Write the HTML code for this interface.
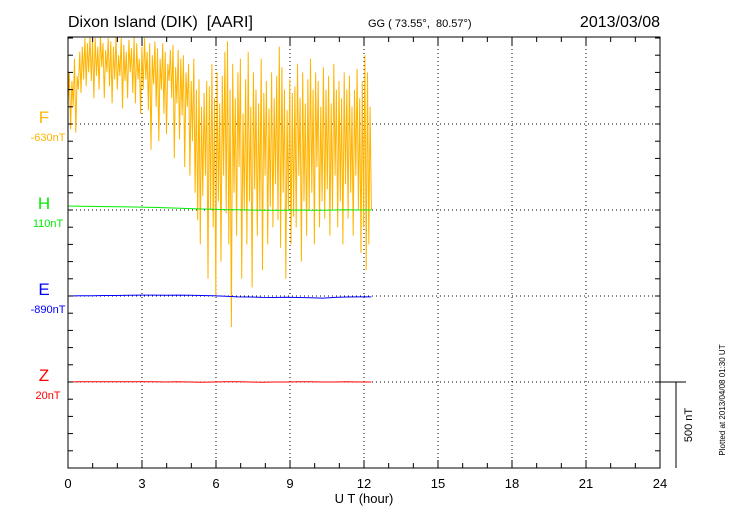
<!DOCTYPE html>
<html><head><meta charset="utf-8"><style>
body{margin:0;background:#fff;width:730px;height:520px;overflow:hidden}
svg text{font-family:"Liberation Sans",sans-serif}
</style></head><body>
<svg id="c" width="730" height="520">
<text x="68" y="27" font-size="16" xml:space="preserve" style="white-space:pre">Dixon Island (DIK)  [AARI]</text>
<text x="368" y="27" font-size="11" xml:space="preserve" style="white-space:pre">GG ( 73.55°,  80.57°)</text>
<text x="660" y="27" font-size="16" text-anchor="end">2013/03/08</text>
<text x="364" y="503" font-size="13" text-anchor="middle">U T (hour)</text>
<text transform="translate(725,400) rotate(-90)" font-size="8" text-anchor="middle">Plotted at 2013/04/08 01:30 UT</text>
<text transform="translate(692,425) rotate(-90)" font-size="11" text-anchor="middle">500 nT</text>
<g id="grid"></g><g id="series"></g><g id="axes"></g>
</svg>
<script>
const hours=[0,3,6,9,12,15,18,21,24];
const comps=["F","H","E","Z"];
const compColors=["#ffb400","#00ee00","#0000ff","#ff0000"];
const baselines=["-630nT","110nT","-890nT","20nT"];
const F=[
120,300,-30,250,100,380,-50,280,200,420,
180,450,260,500,220,470,300,520,250,480,
150,500,280,450,200,520,330,470,150,430,
300,500,220,480,120,450,260,510,200,400,
280,500,90,460,250,420,150,490,300,440,
180,510,120,470,260,380,60,450,200,500,
260,420,80,470,-150,400,230,480,100,440,
-100,380,200,470,60,420,-60,350,250,430,
150,460,-200,330,120,430,-90,380,50,400,
-250,300,100,350,-300,250,-100,380,-400,200,
-560,260,-700,100,-420,180,-300,250,-900,220,
-500,350,-600,150,-1000,300,-450,120,-800,280,
-300,420,-520,480,-700,200,-1180,350,-400,150,
-650,300,-250,380,-900,60,-500,260,-700,420,
-450,100,-950,300,-380,200,-650,120,-500,380,
-850,180,-300,250,-700,90,-480,300,-600,150,
-350,280,-560,450,-720,330,-400,200,-900,80,
-500,260,-700,180,-540,220,-600,350,-300,150,
-800,300,-450,120,-650,260,-500,380,-400,200,
-700,300,-250,250,-600,100,-450,330,-550,200,
-380,280,-650,120,-500,350,-300,200,-600,250,
-450,150,-700,300,-350,200,-550,280,-400,100,
-650,200,-300,320,-500,150,-750,250,-600,400,
-850,300,-700,100,-500
];
const H=[23,22,21,20,19,18,17,15,13,11,8,6,4,2,1,0,-1,-2,-1,0,-2,-1,0,1,0,0];
const E=[0,1,2,3,3,4,5,5,4,5,4,3,1,-2,-5,-6,-8,-9,-7,-9,-10,-12,-8,-6,-5,-5];
const Z=[0,1,1,1,2,1,1,1,0,1,0,-1,0,1,1,0,-1,0,0,1,1,0,0,1,0,0];
const tEnd=12.3;
const x0=68,x1=660,yTop=37,yBot=468;
const baseY=[124,210,296,382];
const pxPerNT=86/500;
const xs=h=>x0+(h/24)*(x1-x0);
const ys=(i,v)=>baseY[i]-v*pxPerNT;
const NS="http://www.w3.org/2000/svg";
function mk(t,a,p){const e=document.createElementNS(NS,t);for(const k in a)e.setAttribute(k,a[k]);p.appendChild(e);return e;}
const svg=document.getElementById('c'),grid=document.getElementById('grid'),ser=document.getElementById('series'),ax=document.getElementById('axes');
const defs=mk('defs',{},svg);const cp=mk('clipPath',{id:'pc'},defs);mk('rect',{x:x0,y:yTop,width:x1-x0,height:yBot-yTop},cp);
hours.forEach((h,i)=>{if(i>0&&i<hours.length-1){const l=mk('line',{x1:xs(h),x2:xs(h),y1:yTop,y2:yBot,stroke:'#000','stroke-width':1,'stroke-dasharray':'1,3'},grid);

}
const t=mk('text',{x:xs(h),y:488,'font-size':13,'text-anchor':'middle'},ax);t.textContent=h;

});
baseY.forEach((y,i)=>{const l=mk('line',{x1:x0,x2:x1,y1:y,y2:y,stroke:'#000','stroke-width':1,'stroke-dasharray':'1,3'},grid);


const a=mk('text',{x:44,y:y-1,'font-size':17,'text-anchor':'middle',fill:compColors[i]},ax);a.textContent=comps[i];


const b=mk('text',{x:48,y:y+17,'font-size':11,'text-anchor':'middle',fill:compColors[i]},ax);b.textContent=baselines[i];

});
mk('rect',{x:x0,y:yTop,width:x1-x0,height:yBot-yTop,fill:'none',stroke:'#000','stroke-width':1},ax);
for(let h=0;h<=24;h++){const x=xs(h);const L=h%3==0?8:5;
mk('line',{x1:x,x2:x,y1:yTop,y2:yTop+L,stroke:'#000'},ax);mk('line',{x1:x,x2:x,y1:yBot,y2:yBot-L,stroke:'#000'},ax);}
for(let k=-5;k<=20;k++){const y=baseY[0]+k*17.2;if(y<yTop||y>yBot)continue;
mk('line',{x1:x0,x2:x0+5,y1:y,y2:y,stroke:'#000'},ax);mk('line',{x1:x1,x2:x1-5,y1:y,y2:y,stroke:'#000'},ax);}
mk('line',{x1:x1,x2:686,y1:382,y2:382,stroke:'#000'},ax);
mk('line',{x1:676,x2:676,y1:382,y2:yBot,stroke:'#000'},ax);
[F,H,E,Z].forEach((arr,i)=>{const n=arr.length;const pts=arr.map((v,j)=>xs(j*tEnd/(n-1)).toFixed(1)+','+ys(i,v).toFixed(1)).join(' ');
const p=mk('polyline',{points:pts,fill:'none',stroke:compColors[i],'stroke-width':1,'clip-path':'url(#pc)'},ser);

});
</script>
</body></html>
